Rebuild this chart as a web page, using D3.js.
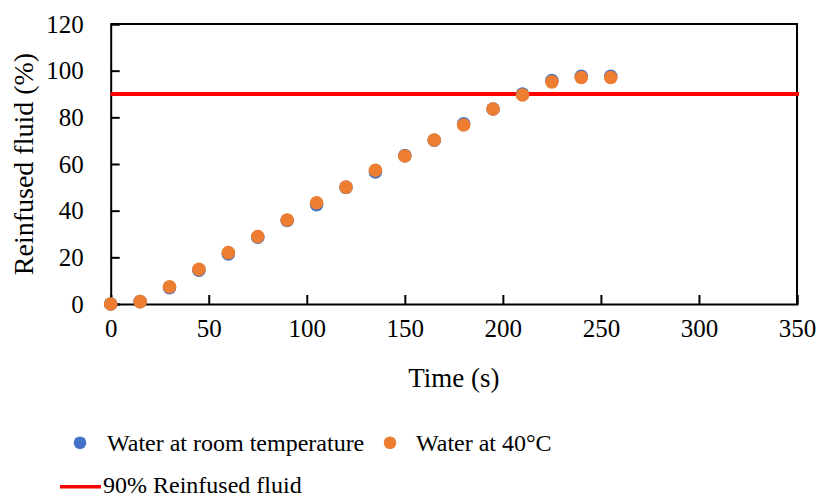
<!DOCTYPE html>
<html><head><meta charset="utf-8">
<script src="https://cdn.jsdelivr.net/npm/d3@7"></script>
<style>body{margin:0;background:#fff}svg{display:block}svg text{font-family:"Liberation Serif","Times New Roman",serif !important;fill:#000}</style>
</head><body><svg id="c" width="820" height="497"></svg>
<script>
const times = [0,15,30,45,60,75,90,105,120,135,150,165,180,195,210,225,240,255];
const roomTemp = [0,1,7.0,14.5,21.5,28.6,35.8,42.6,50,56.6,63.6,70.2,77.2,83.6,90.0,95.8,97.6,97.6];
const water40 = [0,1,7.4,14.9,22.0,28.9,36.0,43.4,50.1,57.3,63.4,70.3,76.7,83.6,89.6,95.2,97.1,97.1];
const xTicks = [0,50,100,150,200,250,300,350];
const yTicks = [0,20,40,60,80,100,120];
const threshold = 90;
const seriesNames = ["Water at room temperature","Water at 40°C","90% Reinfused fluid"];
const colors = ["#4472C4","#ED7D31","#FF0000"];

const svg = d3.select("#c");
const m = {l:110.7, r:797, t:24, b:304};
const x = d3.scaleLinear().domain([0,350]).range([m.l,m.r]);
const y = d3.scaleLinear().domain([0,120]).range([m.b,m.t]);

svg.append("path").attr("d",`M${m.l},${m.t}H${m.r}V${m.b}`).attr("fill","none").attr("stroke","#000").attr("stroke-width",2);

const xa = svg.append("g").attr("transform",`translate(0,${m.b})`)
  .call(d3.axisBottom(x).tickValues(xTicks).tickSize(-9).tickPadding(33).tickFormat(d3.format("d")));
const ya = svg.append("g").attr("transform",`translate(${m.l},0)`)
  .call(d3.axisLeft(y).tickValues(yTicks).tickSize(-9).tickPadding(27).tickFormat(d3.format("d")));
[xa,ya].forEach(a=>{
  a.attr("font-family","Liberation Serif, serif").attr("font-size",null);
  a.select(".domain").attr("stroke","#000").attr("stroke-width",2);
  a.selectAll(".tick line").attr("stroke","#000").attr("stroke-width",2);
  a.selectAll(".tick text").style("font-size","25px");
});
xa.selectAll(".tick text").attr("dy","0");
ya.selectAll(".tick text").attr("dy","0.33em");

svg.append("line").attr("x1",m.l).attr("x2",799).attr("y1",y(threshold)).attr("y2",y(threshold))
  .attr("stroke",colors[2]).attr("stroke-width",4);

svg.append("g").selectAll("circle").data(times.map((t,i)=>[t,roomTemp[i]])).join("circle")
  .attr("cx",d=>x(d[0])).attr("cy",d=>y(d[1])).attr("r",6.8).attr("fill",colors[0]);
svg.append("g").selectAll("circle").data(times.map((t,i)=>[t,water40[i]])).join("circle")
  .attr("cx",d=>x(d[0])).attr("cy",d=>y(d[1])).attr("r",6.8).attr("fill",colors[1]);

svg.append("text").attr("x",(m.l+m.r)/2).attr("y",387).attr("text-anchor","middle").style("font-size","27px").text("Time (s)");
svg.append("text").attr("transform",`translate(33,${(m.t+m.b)/2}) rotate(-90)`).attr("text-anchor","middle").style("font-size","28px").text("Reinfused fluid (%)");

const lg = svg.append("g");
lg.append("circle").attr("cx",80).attr("cy",442.7).attr("r",6.3).attr("fill",colors[0]);
lg.append("text").attr("x",107).attr("y",451).style("font-size","24px").text(seriesNames[0]);
lg.append("circle").attr("cx",390).attr("cy",442.7).attr("r",6.3).attr("fill",colors[1]);
lg.append("text").attr("x",416).attr("y",451).style("font-size","24px").text(seriesNames[1]);
lg.append("line").attr("x1",60).attr("x2",101).attr("y1",486.7).attr("y2",486.7).attr("stroke",colors[2]).attr("stroke-width",3.5);
lg.append("text").attr("x",103).attr("y",493).style("font-size","24px").text(seriesNames[2]);
</script></body></html>
